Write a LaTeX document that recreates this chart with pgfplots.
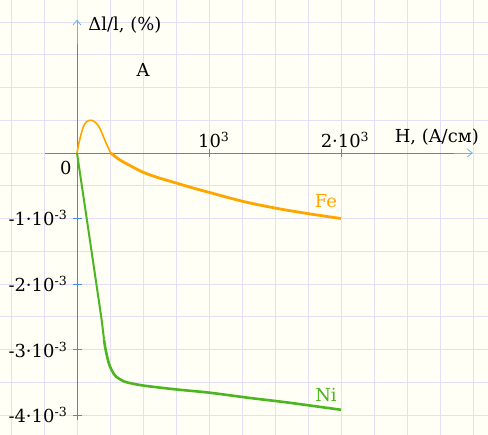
\documentclass[border=0pt]{standalone}
\usepackage{fontspec}
\setmainfont{DejaVu Serif}
\usepackage{pgfplots}
\pgfplotsset{compat=1.18}
\usetikzlibrary{arrows.meta}
\definecolor{bgc}{HTML}{FFFFF6}
\definecolor{gridc}{HTML}{E4DEF8}
\definecolor{axc}{HTML}{3F8CE6}
\definecolor{arc}{HTML}{6AB0F5}
\definecolor{feC}{HTML}{FFA500}
\definecolor{niC}{HTML}{4CB520}
\newcommand{\fs}{\fontsize{18}{21}\selectfont}
\begin{document}
\begin{tikzpicture}
\begin{axis}[
  name=ax,
  scale only axis, width=488bp, height=435bp,
  xmin=-583.3, xmax=3113.6, ymin=-4.305, ymax=2.336,
  xtick distance=250, ytick distance=0.5,
  grid=major, major grid style={gridc, line width=0.8pt},
  major tick length=0pt, xticklabel=\empty, yticklabel=\empty,
  axis line style={draw=none},
  axis background/.style={fill=bgc},
  clip=false,
]
% axes
\draw[axc, line width=0.9pt] (rel axis cs:0.0922,0.6483) -- (rel axis cs:0.94,0.6483);
\draw[arc, line width=0.8pt, -{Straight Barb[length=5pt,width=8pt,line width=0.8pt]}] (rel axis cs:0.93,0.6483) -- (rel axis cs:0.969,0.6483);
\draw[axc, line width=0.9pt] (rel axis cs:0.1578,0.0345) -- (rel axis cs:0.1578,0.93);
\draw[arc, line width=0.8pt, -{Straight Barb[length=5pt,width=8pt,line width=0.8pt]}] (rel axis cs:0.1578,0.90) -- (rel axis cs:0.1578,0.955);
% ticks
\draw[axc, line width=0.8pt] (axis cs:1000,-0.055) -- (axis cs:1000,0.055);
\draw[axc, line width=0.8pt] (axis cs:2000,-0.055) -- (axis cs:2000,0.055);
\draw[axc, line width=0.8pt] (axis cs:-27,-1) -- (axis cs:35,-1);
\draw[axc, line width=0.8pt] (axis cs:-27,-2) -- (axis cs:35,-2);
\draw[axc, line width=0.8pt] (axis cs:-27,-3) -- (axis cs:35,-3);
\draw[axc, line width=0.8pt] (axis cs:-27,-4) -- (axis cs:35,-4);
% data
\addplot[feC, line width=1.6pt, smooth, tension=0.5] coordinates {
 (0,0) (20,0.20) (48,0.40) (73,0.48) (111,0.50) (149,0.45) (175,0.37) (200,0.25) (230,0.11) (255,0)
};
\addplot[feC, line width=2.8pt, smooth, tension=0.5] coordinates {
 (255,0) (290,-0.055) (326,-0.107) (400,-0.19) (502,-0.295) (620,-0.38) (755,-0.46) (880,-0.535) (1008,-0.605) (1260,-0.74) (1513,-0.845) (1765,-0.93) (2000,-1.0)
};
\addplot[niC, line width=2.0pt] coordinates {
 (0,0) (100,-1.36) (187,-2.55) (205,-2.85)
};
\addplot[niC, line width=2.6pt, smooth, tension=0.5] coordinates {
 (205,-2.85) (212,-2.95) (225,-3.08) (237,-3.18) (250,-3.26) (275,-3.36) (300,-3.42) (340,-3.47) (376,-3.50) (502,-3.55) (755,-3.61) (1008,-3.66) (1311,-3.74) (1600,-3.81) (2000,-3.92)
};
% labels
\node[anchor=west] at (rel axis cs:0.174,0.9425) {\fs Δl/l, (\%)};
\node at (rel axis cs:0.293,0.839) {\fs A};
\node at (rel axis cs:0.135,0.614) {\fs 0};
\node at (rel axis cs:0.438,0.678) {\fs 10\textsuperscript{3}};
\node at (rel axis cs:0.707,0.678) {\fs 2·10\textsuperscript{3}};
\node at (rel axis cs:0.895,0.685) {\fs H, (A/см)};
\node[anchor=east] at (rel axis cs:0.145,0.4989) {\fs -1·10\textsuperscript{-3}};
\node[anchor=east] at (rel axis cs:0.145,0.3471) {\fs -2·10\textsuperscript{-3}};
\node[anchor=east] at (rel axis cs:0.145,0.1954) {\fs -3·10\textsuperscript{-3}};
\node[anchor=east] at (rel axis cs:0.145,0.0460) {\fs -4·10\textsuperscript{-3}};
\node[feC] at (rel axis cs:0.668,0.538) {\fs Fe};
\node[niC] at (rel axis cs:0.668,0.092) {\fs Ni};
\end{axis}
\pgfresetboundingbox
\path (ax.south west) rectangle (ax.north east);
\end{tikzpicture}
\end{document}
